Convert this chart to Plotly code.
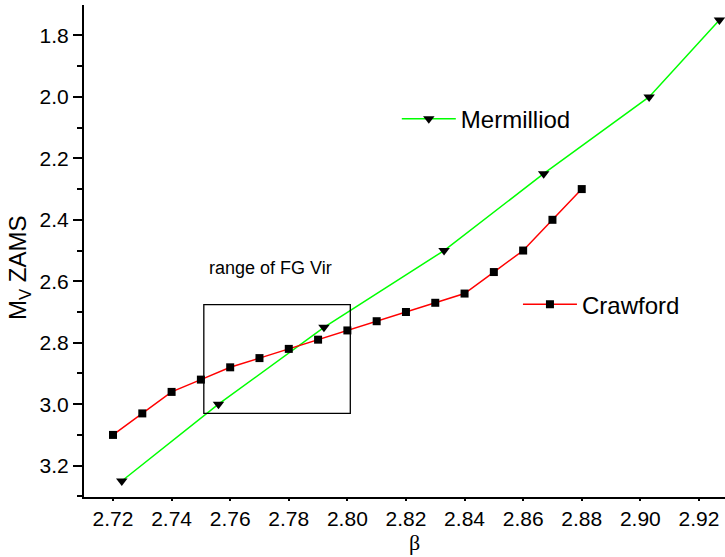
import plotly.graph_objects as go

# Crawford ZAMS calibration
beta_crawford = [2.72, 2.73, 2.74, 2.75, 2.76, 2.77, 2.78, 2.79, 2.80, 2.81,
                 2.82, 2.83, 2.84, 2.85, 2.86, 2.87, 2.88]
mv_crawford = [3.10, 3.03, 2.96, 2.92, 2.88, 2.85, 2.82, 2.79, 2.76, 2.73,
               2.70, 2.67, 2.64, 2.57, 2.50, 2.40, 2.30]

# Mermilliod ZAMS calibration
beta_mermilliod = [2.723, 2.756, 2.792, 2.833, 2.867, 2.903, 2.927]
mv_mermilliod = [3.25, 3.00, 2.75, 2.50, 2.25, 2.00, 1.75]

# Range of FG Vir (beta, Mv)
fgvir_beta = [2.751, 2.801]
fgvir_mv = [2.676, 3.030]

x_range = [2.7101, 2.9289]
y_range = [3.302, 1.701]

sans = "Liberation Sans, Arial, sans-serif"
serif = "Liberation Serif, Times New Roman, serif"

fig = go.Figure()

fig.add_trace(go.Scatter(
    x=beta_mermilliod, y=mv_mermilliod, mode="lines+markers", name="Mermilliod",
    line=dict(color="#00ff00", width=1.5),
    marker=dict(symbol="triangle-down", size=10, color="black"),
    cliponaxis=False, legend="legend",
))
fig.add_trace(go.Scatter(
    x=beta_crawford, y=mv_crawford, mode="lines+markers", name="Crawford",
    line=dict(color="#ff0000", width=1.5),
    marker=dict(symbol="square", size=8, color="black"),
    cliponaxis=False, legend="legend2",
))

fig.add_shape(type="rect", xref="x", yref="y",
              x0=fgvir_beta[0], x1=fgvir_beta[1], y0=fgvir_mv[0], y1=fgvir_mv[1],
              line=dict(color="black", width=1.3))

fig.add_annotation(x=2.7736, y=2.558, xref="x", yref="y", text="range of FG Vir",
                   showarrow=False, font=dict(family=sans, size=18, color="black"))

# axis titles
fig.add_annotation(x=-0.1014, y=0.4654, xref="paper", yref="paper",
                   xanchor="center", yanchor="middle",
                   text="M<sub>V</sub> ZAMS", textangle=-90, showarrow=False,
                   font=dict(family=sans, size=24, color="black"))
fig.add_annotation(x=0.515, y=-0.122, xref="paper", yref="paper", text="β",
                   showarrow=False, xanchor="center", yanchor="bottom",
                   font=dict(family=serif, size=22, color="black"))

tick_font = dict(family=sans, size=21, color="black")

axis_common = dict(
    showgrid=False, zeroline=False, linecolor="black", linewidth=2,
    tickcolor="black", tickwidth=2, ticklen=9,
)

fig.update_layout(
    width=725, height=557,
    margin=dict(l=84, r=0, t=5, b=60),
    paper_bgcolor="white", plot_bgcolor="white",
    showlegend=True,
    # bottom axis: carries the labels; its own ticks are short so the labels sit close
    xaxis=dict(range=x_range, dtick=0.02, tick0=2.72, tickformat=".2f",
               ticks="outside", showline=True, tickfont=tick_font,
               showgrid=False, zeroline=False, linecolor="black", linewidth=2,
               tickcolor="black", tickwidth=2, ticklen=2),
    # bottom axis tick marks (major + minor)
    xaxis3=dict(range=x_range, overlaying="x", side="bottom", anchor="y",
                dtick=0.02, tick0=2.72, ticks="outside", showticklabels=False,
                showline=False,
                minor=dict(dtick=0.01, ticklen=5, tickwidth=2, tickcolor="black", ticks="outside"),
                **axis_common),
    yaxis=dict(range=y_range, dtick=0.2, tick0=1.8, tickformat=".1f",
               ticks="outside", showline=True, tickfont=tick_font,
               minor=dict(dtick=0.1, ticklen=5, tickwidth=2, tickcolor="black", ticks="outside"),
               **axis_common),
    xaxis2=dict(range=x_range, overlaying="x", side="top", anchor="y",
                dtick=0.02, tick0=2.72, ticks="inside", showticklabels=False,
                showline=True,
                minor=dict(dtick=0.01, ticklen=5, tickwidth=2, tickcolor="black", ticks="inside"),
                **axis_common),
    yaxis2=dict(range=y_range, overlaying="y", side="right", anchor="x",
                dtick=0.2, tick0=1.8, ticks="inside", showticklabels=False,
                showline=False,
                minor=dict(dtick=0.1, ticklen=5, tickwidth=2, tickcolor="black", ticks="inside"),
                **axis_common),
    legend=dict(x=0.488, y=0.768, xanchor="left", yanchor="middle",
                bgcolor="rgba(0,0,0,0)", itemwidth=54,
                font=dict(family=sans, size=24, color="black")),
    legend2=dict(x=0.677, y=0.391, xanchor="left", yanchor="middle",
                 bgcolor="rgba(0,0,0,0)", itemwidth=54,
                 font=dict(family=sans, size=24, color="black")),
)

fig.write_html("out.html")
